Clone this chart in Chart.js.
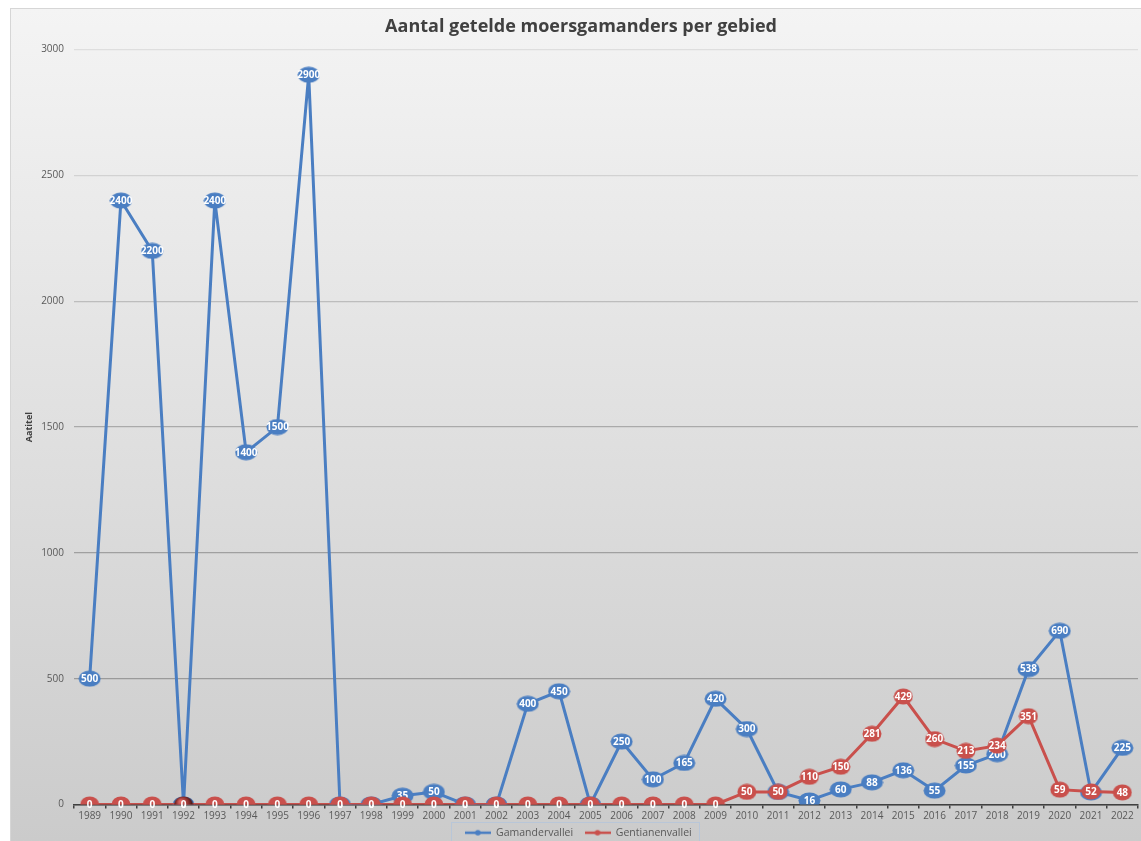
<!DOCTYPE html>
<html lang="nl">
<head>
    <meta charset="UTF-8">
    <title>Aantal getelde moersgamanders per gebied</title>
    <script src="https://cdn.jsdelivr.net/npm/chart.js"></script>
    <style>
        body { margin: 0; background: #fff; }
        canvas { display: block; }
    </style>
</head>
<body>
<canvas id="chart" width="1141" height="841"></canvas>

<script>
    const years = ['1989', '1990', '1991', '1992', '1993', '1994', '1995', '1996', '1997', '1998',
        '1999', '2000', '2001', '2002', '2003', '2004', '2005', '2006', '2007', '2008',
        '2009', '2010', '2011', '2012', '2013', '2014', '2015', '2016', '2017', '2018',
        '2019', '2020', '2021', '2022'];
    const gamandervallei = [500, 2400, 2200, 0, 2400, 1400, 1500, 2900, 0, 0,
        35, 50, 0, 0, 400, 450, 0, 250, 100, 165,
        420, 300, 50, 16, 60, 88, 136, 55, 155, 200,
        538, 690, 48, 225];
    const gentianenvallei = [0, 0, 0, 0, 0, 0, 0, 0, 0, 0,
        0, 0, 0, 0, 0, 0, 0, 0, 0, 0,
        0, 50, 50, 110, 150, 281, 429, 260, 213, 234,
        351, 59, 52, 48];
    const yTicks = [0, 500, 1000, 1500, 2000, 2500, 3000];

    const BLUE = '#4a7ec2';
    const RED = '#c9504c';
    const TEXT = '#595959';
    const FONT = "'Open Sans', 'DejaVu Sans', sans-serif";

    // ellipse shaped markers, like the spreadsheet original
    function ellipse(fill, w, h, dark) {
        const c = document.createElement('canvas');
        c.width = w; c.height = h;
        const g = c.getContext('2d');
        g.beginPath();
        g.ellipse(w / 2, h / 2, w / 2 - 0.5, h / 2 - 0.5, 0, 0, Math.PI * 2);
        if (dark) {
            const rg = g.createRadialGradient(w / 2 - 3, h / 2 - 3, 1, w / 2, h / 2, w / 2);
            rg.addColorStop(0, '#e06a66');
            rg.addColorStop(0.6, '#8a2f2c');
            rg.addColorStop(1, '#2a0f0e');
            g.fillStyle = rg;
        } else {
            g.fillStyle = fill;
        }
        g.fill();
        return c;
    }

    function legendLine(color) {
        const c = document.createElement('canvas');
        c.width = 26; c.height = 8;
        const g = c.getContext('2d');
        g.strokeStyle = color;
        g.lineWidth = 2.5;
        g.beginPath(); g.moveTo(0, 4); g.lineTo(26, 4); g.stroke();
        g.fillStyle = color;
        g.beginPath(); g.arc(13, 4, 2.8, 0, Math.PI * 2); g.fill();
        return c;
    }

    const blueMark = ellipse(BLUE, 23, 17);
    const redMark = ellipse(RED, 20, 17);
    const redDark = ellipse(RED, 20, 17, true);

    const gridColors = {3000: '#dedede', 2500: '#d2d2d2', 2000: '#bdbdbd', 1500: '#aaaaaa', 1000: '#a0a0a0', 500: '#9a9a9a', 0: '#7a7a7a'};

    const backgroundPlugin = {
        id: 'bg',
        beforeDraw(chart) {
            const ctx = chart.ctx;
            ctx.save();
            ctx.fillStyle = '#ffffff';
            ctx.fillRect(0, 0, chart.width, chart.height);
            const lg = ctx.createLinearGradient(0, 8, 0, chart.height);
            lg.addColorStop(0, '#f4f4f4');
            lg.addColorStop(0.5, '#e0e0e0');
            lg.addColorStop(1, '#cbcbcb');
            ctx.fillStyle = lg;
            ctx.fillRect(10, 8, chart.width - 10, chart.height - 8);
            ctx.strokeStyle = '#d6d6d6';
            ctx.strokeRect(10.5, 8.5, chart.width - 10, chart.height - 8);
            ctx.restore();
        }
    };

    const labelPlugin = {
        id: 'pointLabels',
        afterDatasetDraw(chart, args) {
            const ctx = chart.ctx;
            const ds = chart.data.datasets[args.index];
            ctx.save();
            ctx.font = 'bold 10px ' + FONT;
            ctx.fillStyle = '#ffffff';
            ctx.textAlign = 'center';
            ctx.textBaseline = 'middle';
            args.meta.data.forEach((pt, i) => {
                ctx.fillText(String(ds.data[i]), pt.x, pt.y + 0.5);
            });
            ctx.restore();
        }
    };

    const legendBoxPlugin = {
        id: 'legendBox',
        afterDraw(chart) {
            const lg = chart.legend;
            if (!lg || !lg.legendHitBoxes.length) return;
            const boxes = lg.legendHitBoxes;
            const last = boxes[boxes.length - 1];
            const left = boxes[0].left - 14;
            const right = last.left + last.width + 2;
            const ctx = chart.ctx;
            ctx.save();
            ctx.strokeStyle = '#b8c6d8';
            ctx.lineWidth = 1;
            ctx.strokeRect(Math.round(left) + 0.5, Math.round(boxes[0].top) - 5.5, Math.round(right - left), 30);
            ctx.restore();
        }
    };

    const ctx = document.getElementById('chart').getContext('2d');
    new Chart(ctx, {
        type: 'line',
        data: {
            labels: years,
            datasets: [{
                label: 'Gamandervallei',
                data: gamandervallei,
                borderColor: BLUE,
                backgroundColor: BLUE,
                borderWidth: 3,
                pointStyle: blueMark,
                pointRadius: 10,
                order: 1
            }, {
                label: 'Gentianenvallei',
                data: gentianenvallei,
                borderColor: RED,
                backgroundColor: RED,
                borderWidth: 3,
                pointStyle: c => c.dataIndex === 3 ? redDark : redMark,
                pointRadius: 10,
                order: 0
            }]
        },
        options: {
            responsive: false,
            animation: false,
            layout: { autoPadding: false, padding: { top: 8, left: 24, right: 3, bottom: -7 } },
            plugins: {
                title: {
                    display: true,
                    text: 'Aantal getelde moersgamanders per gebied',
                    color: '#404040',
                    font: { family: FONT, size: 18, weight: 'bold' },
                    padding: { top: 8, bottom: 12 }
                },
                legend: {
                    position: 'bottom',
                    labels: {
                        color: TEXT,
                        font: { family: FONT, size: 10.5 },
                        padding: 6,
                        usePointStyle: true,
                        pointStyleWidth: 26,
                        sort: (a, b) => a.datasetIndex - b.datasetIndex,
                        generateLabels(chart) {
                            const items = Chart.defaults.plugins.legend.labels.generateLabels(chart);
                            items.forEach(it => {
                                it.text = it.text + '  ';
                                it.pointStyle = legendLine(it.datasetIndex === 0 ? BLUE : RED);
                            });
                            return items;
                        }
                    }
                },
                tooltip: { enabled: false }
            },
            scales: {
                x: {
                    offset: true,
                    grid: {
                        offset: true,
                        drawOnChartArea: false,
                        drawTicks: true,
                        tickLength: 4,
                        color: '#404040',
                        lineWidth: 1.5
                    },
                    border: { color: '#404040', width: 1.5 },
                    ticks: {
                        color: TEXT,
                        font: { family: FONT, size: 10 },
                        padding: 2,
                        maxRotation: 0,
                        autoSkip: false
                    },
                    afterFit(scale) {
                        scale.height = 17;
                        scale.paddingLeft = 0;
                        scale.paddingRight = 0;
                    }
                },
                y: {
                    min: 0,
                    max: 3000,
                    afterBuildTicks(scale) { scale.ticks = yTicks.map(v => ({ value: v })); },
                    grid: {
                        drawTicks: false,
                        color: c => gridColors[c.tick.value] || '#aaaaaa',
                        lineWidth: 1.2
                    },
                    border: { display: false },
                    ticks: {
                        color: TEXT,
                        font: { family: FONT, size: 10 },
                        padding: 10,
                        callback: v => String(v)
                    },
                    title: {
                        display: true,
                        text: 'Aatitel',
                        color: '#404040',
                        font: { family: FONT, size: 9, weight: 'bold' },
                        padding: { top: 0, bottom: 4 }
                    },
                    afterFit(scale) { scale.width = 50; }
                }
            }
        },
        plugins: [backgroundPlugin, labelPlugin, legendBoxPlugin]
    });
</script>
</body>
</html>
